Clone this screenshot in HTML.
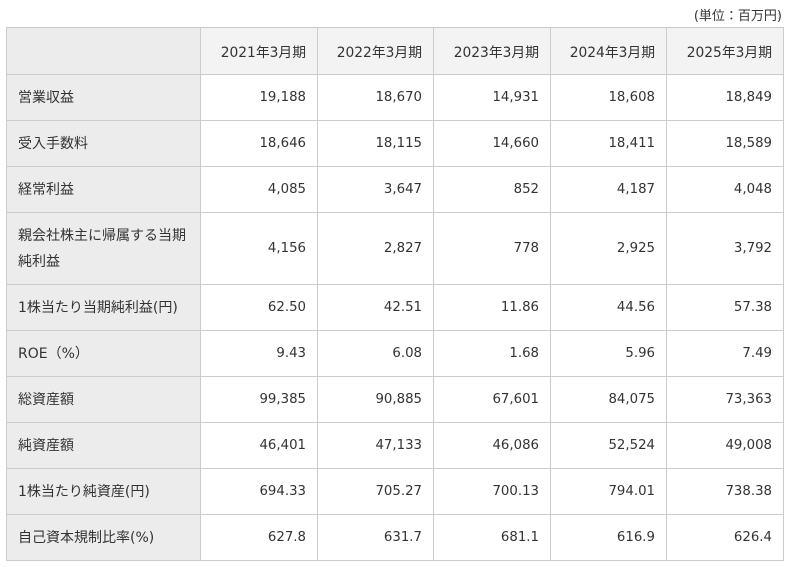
<!DOCTYPE html>
<html><head><meta charset="utf-8"><style>
body{margin:0;width:786px;height:567px;background:#fff;font-family:"DejaVu Sans","Noto Sans CJK JP",sans-serif;color:#333;font-size:13.3px;}
.unit{position:absolute;top:5px;right:4px;font-size:13px;}
table{position:absolute;left:6px;top:27px;border-collapse:collapse;table-layout:fixed;width:777px;}
td,th{border:1px solid #ccc;padding:0 11px;font-weight:normal;}
th{background:#f3f3f3;text-align:right;height:46px;font-size:13.8px;}
th.f{background:#ececec;}
td{text-align:right;height:45px;}
td.f{background:#ececec;text-align:left;line-height:26px;font-size:14px;}
tr.t td{height:71px;}
</style></head><body>
<div class="unit">(単位：百万円)</div>
<table>
<colgroup><col style="width:194px"><col style="width:117px"><col style="width:116px"><col style="width:117px"><col style="width:116px"><col style="width:117px"></colgroup>
<tr><th class="f"></th><th>2021年3月期</th><th>2022年3月期</th><th>2023年3月期</th><th>2024年3月期</th><th>2025年3月期</th></tr>
<tr><td class="f">営業収益</td><td>19,188</td><td>18,670</td><td>14,931</td><td>18,608</td><td>18,849</td></tr>
<tr><td class="f">受入手数料</td><td>18,646</td><td>18,115</td><td>14,660</td><td>18,411</td><td>18,589</td></tr>
<tr><td class="f">経常利益</td><td>4,085</td><td>3,647</td><td>852</td><td>4,187</td><td>4,048</td></tr>
<tr class="t"><td class="f">親会社株主に帰属する当期<br>純利益</td><td>4,156</td><td>2,827</td><td>778</td><td>2,925</td><td>3,792</td></tr>
<tr><td class="f">1株当たり当期純利益(円)</td><td>62.50</td><td>42.51</td><td>11.86</td><td>44.56</td><td>57.38</td></tr>
<tr><td class="f">ROE（%）</td><td>9.43</td><td>6.08</td><td>1.68</td><td>5.96</td><td>7.49</td></tr>
<tr><td class="f">総資産額</td><td>99,385</td><td>90,885</td><td>67,601</td><td>84,075</td><td>73,363</td></tr>
<tr><td class="f">純資産額</td><td>46,401</td><td>47,133</td><td>46,086</td><td>52,524</td><td>49,008</td></tr>
<tr><td class="f">1株当たり純資産(円)</td><td>694.33</td><td>705.27</td><td>700.13</td><td>794.01</td><td>738.38</td></tr>
<tr><td class="f">自己資本規制比率(%)</td><td>627.8</td><td>631.7</td><td>681.1</td><td>616.9</td><td>626.4</td></tr>
</table>
</body></html>
